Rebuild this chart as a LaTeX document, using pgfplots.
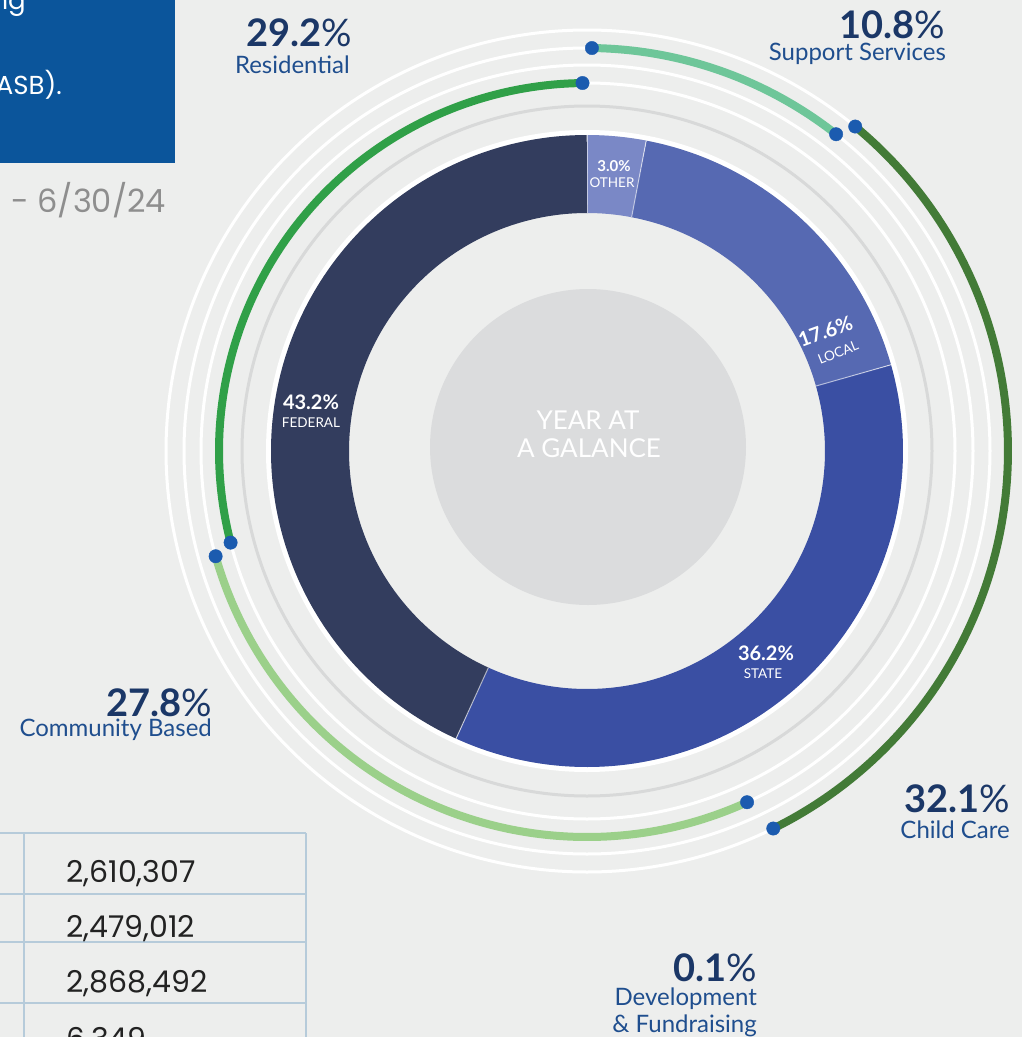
\documentclass[border=0pt]{standalone}
\usepackage{pgfplots}
\pgfplotsset{compat=1.18}
\usepackage{fontspec}
\setmainfont{Lato}
\newfontfamily\pop{Poppins}
\definecolor{bg}{HTML}{EDEEED}
\definecolor{boxblue}{HTML}{0B559B}
\definecolor{federal}{HTML}{333D5E}
\definecolor{state}{HTML}{3A4FA3}
\definecolor{local}{HTML}{5669B2}
\definecolor{other}{HTML}{7A88C6}
\definecolor{disk}{HTML}{DBDCDD}
\definecolor{ringgrey}{HTML}{D8D9D9}
\definecolor{resid}{HTML}{30A048}
\definecolor{support}{HTML}{6EC699}
\definecolor{child}{HTML}{437B37}
\definecolor{community}{HTML}{9BD08A}
\definecolor{dot}{HTML}{1B5BAF}
\definecolor{navy}{HTML}{1B3767}
\definecolor{labblue}{HTML}{1F4E8E}
\definecolor{tline}{HTML}{B6CBDA}
\definecolor{dategrey}{HTML}{8E8E8E}
\definecolor{numtxt}{HTML}{222222}
% revenue shares (donut)
\def\pOther{3.0}\def\pLocal{17.6}\def\pState{36.2}\def\pFederal{43.2}
% expense shares (outer arcs)
\def\eRes{29.2}\def\eCom{27.8}\def\eDev{0.1}\def\eChild{32.1}\def\eSup{10.8}
\def\cx{587}\def\cy{451}
\def\gap{0.7}
% donut angles (clockwise from 90)
\pgfmathsetmacro\dA{90}
\pgfmathsetmacro\dB{90-3.6*\pOther}
\pgfmathsetmacro\dC{\dB-3.6*\pLocal}
\pgfmathsetmacro\dD{\dC-3.6*\pState}
\pgfmathsetmacro\dE{\dD-3.6*\pFederal}
% arcs (counter-clockwise from 90)
\pgfmathsetmacro\rS{90+\gap}
\pgfmathsetmacro\rE{90+3.6*\eRes-\gap}
\pgfmathsetmacro\cS{90+3.6*\eRes+\gap}
\pgfmathsetmacro\cE{90+3.6*(\eRes+\eCom)-\gap}
\pgfmathsetmacro\hS{90+3.6*(\eRes+\eCom+\eDev)+\gap}
\pgfmathsetmacro\hE{90+3.6*(\eRes+\eCom+\eDev+\eChild)-\gap}
\pgfmathsetmacro\sS{90+3.6*(\eRes+\eCom+\eDev+\eChild)+\gap}
\pgfmathsetmacro\sE{90+3.6*(\eRes+\eCom+\eDev+\eChild+\eSup)-\gap}
\begin{document}
\begin{tikzpicture}[every node/.style={inner sep=0pt}]
\begin{axis}[x=1pt, y=1pt, xmin=0, xmax=1022, ymin=0, ymax=1037, y dir=reverse,
  hide axis, at={(0,0)}, anchor=south west]
% background and box
\addplot[fill=bg, draw=none] coordinates {(0,0) (1022,0) (1022,1037) (0,1037)};
\addplot[fill=boxblue, draw=none] coordinates {(0,0) (175,0) (175,163) (0,163)};
\node[anchor=base east, text=white, font=\pop\fontsize{26}{30}\selectfont] at (26,9) {ng};
\node[anchor=base east, text=white, font=\pop\fontsize{26}{30}\selectfont] at (62,94) {(GASB).};
\node[anchor=base east, text=dategrey, font=\pop\fontsize{32}{36}\selectfont] at (166,212) {7/1/23 - 6/30/24};
% table
\addplot[tline, line width=1.5pt] coordinates {(0,833) (306,833)};
\addplot[tline, line width=1.5pt] coordinates {(0,894) (306,894)};
\addplot[tline, line width=1.5pt] coordinates {(0,942) (306,942)};
\addplot[tline, line width=1.5pt] coordinates {(0,1003) (306,1003)};
\addplot[tline, line width=1.5pt] coordinates {(24,833) (24,1037)};
\addplot[tline, line width=1.5pt] coordinates {(306,833) (306,1037)};
\node[anchor=base west, text=numtxt, font=\pop\fontsize{30}{32}\selectfont] at (66,882) {2,610,307};
\node[anchor=base west, text=numtxt, font=\pop\fontsize{30}{32}\selectfont] at (66,937) {2,479,012};
\node[anchor=base west, text=numtxt, font=\pop\fontsize{30}{32}\selectfont] at (66,992) {2,868,492};
\node[anchor=base west, text=numtxt, font=\pop\fontsize{30}{32}\selectfont] at (66,1049) {6,349};
% rings
\addplot[white, line width=3pt, domain=0:360, samples=361, variable=\t] ({\cx+368*cos(\t)},{\cy-368*sin(\t)});
\addplot[white, line width=3pt, domain=0:360, samples=361, variable=\t] ({\cx+386*cos(\t)},{\cy-386*sin(\t)});
\addplot[white, line width=3pt, domain=0:360, samples=361, variable=\t] ({\cx+403*cos(\t)},{\cy-403*sin(\t)});
\addplot[white, line width=3pt, domain=0:360, samples=361, variable=\t] ({\cx+421*cos(\t)},{\cy-421*sin(\t)});
\addplot[ringgrey, line width=3pt, domain=0:360, samples=361, variable=\t] ({\cx+345*cos(\t)},{\cy-345*sin(\t)});
\addplot[white, line width=5pt, domain=0:360, samples=361, variable=\t] ({\cx+318.5*cos(\t)},{\cy-318.5*sin(\t)});
% expense arcs
\addplot[resid, line width=8pt, domain=\rS:\rE, samples=120, variable=\t] ({\cx+368*cos(\t)},{\cy-368*sin(\t)});
\addplot[community, line width=8pt, domain=\cS:\cE, samples=120, variable=\t] ({\cx+386*cos(\t)},{\cy-386*sin(\t)});
\addplot[child, line width=8pt, domain=\hS:\hE, samples=120, variable=\t] ({\cx+421*cos(\t)},{\cy-421*sin(\t)});
\addplot[support, line width=8pt, domain=\sS:\sE, samples=60, variable=\t] ({\cx+403*cos(\t)},{\cy-403*sin(\t)});
\addplot[only marks, mark=*, mark size=6.7pt, mark options={fill=dot, draw=dot}, samples at={\rS,\rE}, variable=\t] ({\cx+368*cos(\t)},{\cy-368*sin(\t)});
\addplot[only marks, mark=*, mark size=6.7pt, mark options={fill=dot, draw=dot}, samples at={\cS,\cE}, variable=\t] ({\cx+386*cos(\t)},{\cy-386*sin(\t)});
\addplot[only marks, mark=*, mark size=6.7pt, mark options={fill=dot, draw=dot}, samples at={\hS,\hE}, variable=\t] ({\cx+421*cos(\t)},{\cy-421*sin(\t)});
\addplot[only marks, mark=*, mark size=6.7pt, mark options={fill=dot, draw=dot}, samples at={\sS,\sE}, variable=\t] ({\cx+403*cos(\t)},{\cy-403*sin(\t)});
% donut
\addplot[other, line width=78pt, line join=round, domain=\dB:\dA, samples=30, variable=\t] ({\cx+277*cos(\t)},{\cy-277*sin(\t)});
\addplot[local, line width=78pt, line join=round, domain=\dC:\dB, samples=90, variable=\t] ({\cx+277*cos(\t)},{\cy-277*sin(\t)});
\addplot[state, line width=78pt, line join=round, domain=\dD:\dC, samples=160, variable=\t] ({\cx+277*cos(\t)},{\cy-277*sin(\t)});
\addplot[federal, line width=78pt, line join=round, domain=\dE:\dD, samples=180, variable=\t] ({\cx+277*cos(\t)},{\cy-277*sin(\t)});
\addplot[white, opacity=0.6, line width=1pt, samples at={238,316}, variable=\r] ({\cx+\r*cos(\dA)},{\cy-\r*sin(\dA)});
\addplot[white, opacity=0.6, line width=1pt, samples at={238,316}, variable=\r] ({\cx+\r*cos(\dB)},{\cy-\r*sin(\dB)});
\addplot[white, opacity=0.6, line width=1pt, samples at={238,316}, variable=\r] ({\cx+\r*cos(\dC)},{\cy-\r*sin(\dC)});
\addplot[white, opacity=0.6, line width=1pt, samples at={238,316}, variable=\r] ({\cx+\r*cos(\dD)},{\cy-\r*sin(\dD)});
% centre disk
\addplot[fill=disk, draw=none, domain=0:360, samples=181, variable=\t] ({588+158*cos(\t)},{447-158*sin(\t)});
\node[anchor=base, text=white, font=\fontsize{26}{28}\selectfont] at (588,429) {YEAR AT};
\node[anchor=base, text=white, font=\fontsize{26}{28}\selectfont] at (589,457) {A GALANCE};
% donut labels
\node[anchor=base, text=white, font=\bfseries\fontsize{15}{17}\selectfont] at (614,171) {3.0\%};
\node[anchor=base, text=white, font=\fontsize{13.5}{15}\selectfont] at (612,187) {OTHER};
\node[anchor=base, rotate=20, text=white, font=\bfseries\fontsize{20}{22}\selectfont] at (828,338) {17.6\%};
\node[anchor=base, rotate=22, text=white, font=\fontsize{13.5}{15}\selectfont] at (840,357) {LOCAL};
\node[anchor=base, text=white, font=\bfseries\fontsize{20}{22}\selectfont] at (766,660) {36.2\%};
\node[anchor=base, text=white, font=\fontsize{13.5}{15}\selectfont] at (763,678) {STATE};
\node[anchor=base, text=white, font=\bfseries\fontsize{20}{22}\selectfont] at (311,409) {43.2\%};
\node[anchor=base, text=white, font=\fontsize{13.5}{15}\selectfont] at (311,427) {FEDERAL};
% outer labels
\node[anchor=base east, text=navy, font=\fontsize{38}{40}\selectfont] at (352,46) {\textbf{29.2}\%};
\node[anchor=base east, text=labblue, font=\fontsize{24}{26}\selectfont] at (350,73) {Residential};
\node[anchor=base east, text=navy, font=\fontsize{38}{40}\selectfont] at (945,38) {\textbf{10.8}\%};
\node[anchor=base east, text=labblue, font=\fontsize{24}{26}\selectfont] at (946,60) {Support Services};
\node[anchor=base east, text=navy, font=\fontsize{38}{40}\selectfont] at (1010,812) {\textbf{32.1}\%};
\node[anchor=base east, text=labblue, font=\fontsize{24}{26}\selectfont] at (1010,838) {Child Care};
\node[anchor=base east, text=navy, font=\fontsize{38}{40}\selectfont] at (212,716) {\textbf{27.8}\%};
\node[anchor=base east, text=labblue, font=\fontsize{24}{26}\selectfont] at (212,736) {Community Based};
\node[anchor=base east, text=navy, font=\fontsize{38}{40}\selectfont] at (757,981) {\textbf{0.1}\%};
\node[anchor=base east, text=labblue, font=\fontsize{24}{26}\selectfont] at (757,1005) {Development};
\node[anchor=base east, text=labblue, font=\fontsize{24}{26}\selectfont] at (757,1032) {\& Fundraising};
\end{axis}
\pgfresetboundingbox
\path[use as bounding box] (0,0) rectangle (1022pt,1037pt);
\end{tikzpicture}
\end{document}
